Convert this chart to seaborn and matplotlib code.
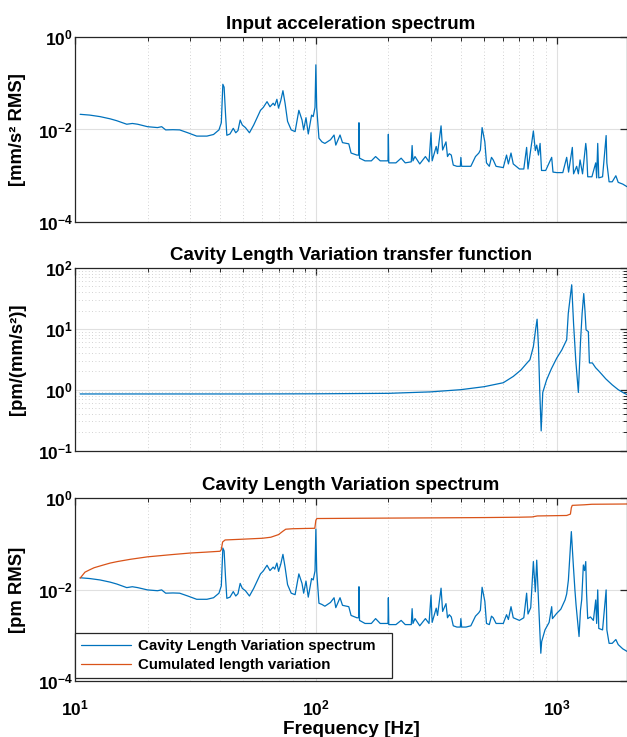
import numpy as np
import pandas as pd
import matplotlib
matplotlib.use("Agg")
import matplotlib.pyplot as plt
import seaborn as sns
from matplotlib.ticker import FixedLocator, NullLocator, FuncFormatter, NullFormatter

# ---------------- data ----------------
acc_freq = [10.5, 11.5, 12.7, 14.0, 14.9, 16.4, 17.3, 18.2, 20.0, 22.0, 22.9, 23.8, 25.5, 27.2, 29.4,
            32.0, 35.3, 37.6, 39.6, 40.5, 41.1, 41.6, 42.2, 42.7, 44.0, 45.4, 46.5, 47.5, 48.5, 49.5,
            51.0, 53.0, 55.2, 57.0, 58.9, 60.5, 62.7, 64.5, 66.5, 67.5, 68.9, 70.0, 71.5, 73.0, 74.5,
            76.3, 79.0, 82.0, 85.0, 87.6, 89.0, 91.0, 93.0, 96.0, 97.5, 99.2, 100.0, 100.8,
            103, 106, 109, 115, 119, 121, 126, 129, 137, 140, 148, 150.5, 151, 151.8, 160, 170, 177,
            185, 195, 199.3, 200, 200.8, 215, 226, 235, 249, 251, 253, 258, 270, 285, 295, 300.7, 304,
            316, 320, 331, 336, 347, 352, 358, 365, 372, 385, 398, 400, 403, 420, 440, 460, 475, 482,
            490, 503, 511, 525, 536, 545, 560, 600, 619, 630, 646, 660, 700, 730, 750, 760, 800, 815,
            826, 840, 853, 865, 900, 953, 965, 1000, 1060, 1100, 1120, 1161, 1175, 1210, 1230, 1250,
            1280, 1320, 1330, 1345, 1400, 1452, 1465, 1480, 1495, 1550, 1604, 1615, 1650, 1700, 1760,
            1800, 1880, 1958]
acc_val = [0.0213, 0.0205, 0.019, 0.017, 0.0155, 0.013, 0.0135, 0.013, 0.0115, 0.011, 0.0115, 0.0098,
           0.0099, 0.0098, 0.0085, 0.0072, 0.0072, 0.0078, 0.0098, 0.014, 0.095, 0.082, 0.02, 0.0075,
           0.008, 0.0106, 0.0085, 0.0095, 0.016, 0.0125, 0.011, 0.0085, 0.0125, 0.018, 0.026, 0.03,
           0.040, 0.031, 0.037, 0.033, 0.045, 0.029, 0.042, 0.069, 0.037, 0.015, 0.0098, 0.009, 0.026,
           0.016, 0.0098, 0.018, 0.008, 0.0205, 0.019, 0.03, 0.25, 0.03,
           0.0065, 0.0054, 0.005, 0.006, 0.0076, 0.0046, 0.0076, 0.0052, 0.0049, 0.0031, 0.0028,
           0.0028, 0.014, 0.0024, 0.0021, 0.0021, 0.0026, 0.0021, 0.0021, 0.0021, 0.0079, 0.0019,
           0.0019, 0.0024, 0.0019, 0.0020, 0.0045, 0.0021, 0.0026, 0.0018, 0.0026, 0.0020, 0.0085,
           0.0021, 0.0043, 0.0030, 0.012, 0.0036, 0.0054, 0.0026, 0.003, 0.0028, 0.0017, 0.0016,
           0.0016, 0.0025, 0.0016, 0.0016, 0.0016, 0.0026, 0.0031, 0.0036, 0.011, 0.0054, 0.0019,
           0.0016, 0.0025, 0.0022, 0.0016, 0.0015, 0.0028, 0.0018, 0.0031, 0.0018, 0.0014, 0.0014,
           0.0041, 0.0014, 0.0093, 0.0035, 0.0046, 0.0028, 0.0050, 0.0013, 0.0013, 0.0025, 0.0012,
           0.00117, 0.00117, 0.0025, 0.0012, 0.0041, 0.0011, 0.0016, 0.0011, 0.0022, 0.0011, 0.005,
           0.0035, 0.00095, 0.00095, 0.0019, 0.0009, 0.005, 0.0009, 0.00095, 0.0074, 0.0019, 0.00074,
           0.00074, 0.0010, 0.00072, 0.00066, 0.00058]

tf_freq = [10.5, 50, 100, 200, 300, 400, 500, 600, 660, 710, 750, 774, 800, 815, 829, 840, 850, 862,
           875, 908, 950, 1000, 1050, 1100, 1117, 1154, 1175, 1200, 1230, 1255, 1275, 1295, 1310,
           1324, 1353, 1367, 1406, 1450, 1500, 1600, 1700, 1800, 1900, 1958]
tf_val = [0.85, 0.85, 0.855, 0.87, 0.92, 1.0, 1.12, 1.3, 1.65, 2.1, 2.7, 3.1, 5.1, 9.0, 14.4, 5.0, 1.0,
          0.21, 0.9, 1.45, 2.2, 3.3, 4.5, 6.6, 18, 53, 12, 3.0, 0.9, 6.0, 18, 38, 20, 9.6, 9.0, 2.75,
          2.75, 2.3, 2.0, 1.5, 1.2, 1.0, 0.88, 0.83]

cav_freq = [10.5, 11.5, 12.7, 14.0, 14.9, 16.4, 17.3, 18.2, 20.0, 22.0, 22.9, 23.8, 25.5, 27.2, 29.4,
            32.0, 35.3, 37.6, 39.6, 40.5, 41.1, 41.6, 42.2, 42.7, 44.0, 45.4, 46.5, 47.5, 48.5, 49.5,
            51.0, 53.0, 55.2, 57.0, 58.9, 60.5, 62.7, 64.5, 66.5, 67.5, 68.9, 70.0, 71.5, 73.0, 74.5,
            76.3, 79.0, 82.0, 85.0, 87.6, 89.0, 91.0, 93.0, 96.0, 97.5, 99.2, 100.0, 100.8,
            103, 106, 109, 115, 119, 121, 126, 129, 137, 140, 148, 150.5, 151, 151.8, 160, 170, 177,
            185, 195, 199.3, 200, 200.8, 215, 226, 235, 249, 251, 253, 258, 270, 285, 295, 300.7, 304,
            316, 320, 331, 336, 347, 352, 358, 365, 372, 385, 398, 400, 403, 420, 440, 460, 475, 482,
            490, 503, 511, 525, 536, 545, 560, 600, 619, 630, 646, 660, 700, 730, 750, 760, 780, 800,
            815, 826, 839, 850, 859, 866, 894, 930, 953, 960, 1000, 1040, 1083, 1100, 1118, 1150, 1173,
            1190, 1203, 1238, 1255, 1270, 1290, 1305, 1320, 1330, 1345, 1380, 1420, 1452, 1465, 1480,
            1495, 1550, 1604, 1615, 1650, 1700, 1760, 1800, 1880, 1958]
cav_val = [0.0181, 0.0174, 0.0162, 0.0145, 0.0132, 0.011, 0.0115, 0.011, 0.0098, 0.0094, 0.0098,
           0.0083, 0.0084, 0.0083, 0.0072, 0.0061, 0.0061, 0.0066, 0.0083, 0.012, 0.081, 0.070, 0.017,
           0.0064, 0.0068, 0.009, 0.0072, 0.0081, 0.0136, 0.0106, 0.0094, 0.0072, 0.0106, 0.0153,
           0.022, 0.0255, 0.034, 0.026, 0.031, 0.028, 0.038, 0.025, 0.036, 0.059, 0.031, 0.0128,
           0.0083, 0.0077, 0.022, 0.0136, 0.0083, 0.0153, 0.0068, 0.0174, 0.0162, 0.0255, 0.21, 0.0255,
           0.0050, 0.0047, 0.0043, 0.0052, 0.0066, 0.004, 0.0066, 0.0045, 0.0042, 0.0027, 0.0024,
           0.0024, 0.0115, 0.0021, 0.0018, 0.0018, 0.0023, 0.0018, 0.0018, 0.0018, 0.0066, 0.0017,
           0.0017, 0.0021, 0.0017, 0.0017, 0.0038, 0.0018, 0.0023, 0.0016, 0.0023, 0.0018, 0.0075,
           0.0019, 0.0039, 0.0027, 0.0107, 0.0033, 0.0049, 0.0024, 0.0028, 0.0025, 0.0016, 0.0015,
           0.0015, 0.0023, 0.0015, 0.0015, 0.0016, 0.0026, 0.0031, 0.0035, 0.0112, 0.0055, 0.0018,
           0.0017, 0.0026, 0.0024, 0.0018, 0.0018, 0.0028, 0.0022, 0.0042, 0.0024, 0.0021, 0.0024,
           0.0083, 0.0029, 0.004, 0.041, 0.0089, 0.044, 0.0069, 0.0015, 0.0004, 0.00072, 0.0013,
           0.0019, 0.0042, 0.0023, 0.0030, 0.0037, 0.0059, 0.008, 0.016, 0.186, 0.032, 0.0098, 0.0046,
           0.00093, 0.0035, 0.006, 0.0345, 0.026, 0.041, 0.0083, 0.0023, 0.0025, 0.0021, 0.0059,
           0.0018, 0.0098, 0.0014, 0.0013, 0.0098, 0.0013, 0.00066, 0.00066, 0.0008, 0.00062, 0.0005,
           0.00044]

cum_freq = [10.5, 11, 11.5, 12, 13, 14, 15, 17, 20, 25, 30, 35, 40, 40.5, 41, 42, 50, 60, 65, 70, 73,
            75, 80, 90, 99, 100, 101, 150, 200, 300, 500, 700, 790, 830, 1100, 1140, 1150, 1160,
            1300, 1400, 1958]
cum_val = [0.0177, 0.024, 0.027, 0.030, 0.034, 0.038, 0.041, 0.046, 0.052, 0.058, 0.063, 0.066, 0.069,
           0.075, 0.11, 0.122, 0.127, 0.133, 0.14, 0.16, 0.19, 0.21, 0.215, 0.218, 0.22, 0.33, 0.36,
           0.365, 0.368, 0.372, 0.378, 0.385, 0.39, 0.41, 0.42, 0.45, 0.62, 0.70, 0.72, 0.74, 0.75]

titles = ["Input acceleration spectrum",
          "Cavity Length Variation transfer function",
          "Cavity Length Variation spectrum"]
ylabels = ["[mm/s² RMS]", "[pm/(mm/s²)]", "[pm RMS]"]
xlabel = "Frequency [Hz]"
legend_labels = ["Cavity Length Variation spectrum", "Cumulated length variation"]
x_ticks = [10, 100, 1000]
y_ticks = [[1e-4, 1e-2, 1e0], [1e-1, 1e0, 1e1, 1e2], [1e-4, 1e-2, 1e0]]
y_lims = [(1e-4, 1e0), (1e-1, 1e2), (1e-4, 1e0)]

# ---------------- style ----------------
sns.set_style("white")
plt.rcParams.update({
    "font.family": ["Liberation Sans", "DejaVu Sans"],
    "font.weight": "bold",
    "axes.labelweight": "bold",
    "axes.titleweight": "bold",
    "text.color": "black",
    "axes.labelcolor": "black",
    "mathtext.fontset": "custom",
    "mathtext.rm": "Liberation Sans:bold",
    "mathtext.bf": "Liberation Sans:bold",
    "mathtext.it": "Liberation Sans:bold",
    "mathtext.sf": "Liberation Sans:bold",
    "axes.edgecolor": "#262626",
    "axes.linewidth": 0.9,
})

BLUE = "#0072BD"
ORANGE = "#D95319"

fig = plt.figure(figsize=(6.27, 7.37), dpi=100)
W, H = 627.0, 737.0
left = 75 / W
width = (627 - 75) / W
boxes = [(37, 222), (268, 450.5), (498.3, 680.7)]
axes = [fig.add_axes([left, 1 - b / H, width, (b - t) / H]) for t, b in boxes]

def logfmt(v, pos):
    e = int(round(np.log10(v)))
    return r"$\mathbf{10^{%d}}$" % e

df1 = pd.DataFrame({"f": acc_freq, "v": acc_val})
df2 = pd.DataFrame({"f": tf_freq, "v": tf_val})
df3 = pd.DataFrame({"f": cav_freq, "v": cav_val})
df4 = pd.DataFrame({"f": cum_freq, "v": cum_val})

sns.lineplot(data=df1, x="f", y="v", ax=axes[0], color=BLUE, lw=0.9, estimator=None, sort=False)
sns.lineplot(data=df2, x="f", y="v", ax=axes[1], color=BLUE, lw=0.9, estimator=None, sort=False)
sns.lineplot(data=df3, x="f", y="v", ax=axes[2], color=BLUE, lw=0.9, estimator=None, sort=False,
             label=legend_labels[0])
sns.lineplot(data=df4, x="f", y="v", ax=axes[2], color=ORANGE, lw=0.9, estimator=None, sort=False,
             label=legend_labels[1])

for i, ax in enumerate(axes):
    ax.set_xscale("log")
    ax.set_yscale("log")
    ax.set_xlim(10, 1958)
    ax.set_ylim(*y_lims[i])
    ax.xaxis.set_major_locator(FixedLocator(x_ticks))
    ax.xaxis.set_minor_locator(FixedLocator([m * d for d in (10, 100, 1000) for m in range(2, 10)]))
    ax.yaxis.set_major_locator(FixedLocator(y_ticks[i]))
    if i == 1:
        ax.yaxis.set_minor_locator(FixedLocator([m * d for d in (0.1, 1, 10) for m in range(2, 10)]))
    else:
        ax.yaxis.set_minor_locator(NullLocator())
    ax.yaxis.set_major_formatter(FuncFormatter(logfmt))
    ax.yaxis.set_minor_formatter(NullFormatter())
    ax.xaxis.set_minor_formatter(NullFormatter())
    if i == 2:
        ax.xaxis.set_major_formatter(FuncFormatter(logfmt))
    else:
        ax.xaxis.set_major_formatter(NullFormatter())
    ax.set_axisbelow(True)
    ax.grid(which="major", color="#e0e0e0", lw=0.8, ls="-")
    ax.grid(which="minor", axis="x", color="#c4c4c4", lw=0.6, ls=(0, (1, 3)))
    if i == 1:
        ax.grid(which="minor", axis="y", color="#c4c4c4", lw=0.6, ls=(0, (1, 3)))
    ax.tick_params(which="both", direction="in", top=True, right=True, colors="#262626",
                   labelcolor="black", labelsize=12.5)
    ax.tick_params(axis="y", which="both", pad=1.5)
    ax.tick_params(axis="x", which="both", pad=13)
    ax.tick_params(which="major", length=5, width=0.9)
    ax.tick_params(which="minor", length=3, width=0.7)
    for s in ax.spines.values():
        s.set_visible(True)
        s.set_color("#262626")
    ax.set_title(titles[i], fontsize=13.5, fontweight="bold", pad=6)
    ax.set_ylabel(ylabels[i], fontsize=13.3, fontweight="bold")
    ax.set_xlabel("")

axes[2].set_xlabel(xlabel, fontsize=13.7, fontweight="bold", labelpad=2)
for ax in axes:
    ax.yaxis.set_label_coords(-0.088, 0.5)

leg = axes[2].legend(loc="lower left", bbox_to_anchor=(0.0, 0.013, 0.574, 0.25), mode="expand",
                     frameon=True, fancybox=False, framealpha=1, edgecolor="#262626",
                     prop={"weight": "bold", "size": 10.8}, handlelength=3.3, handletextpad=0.5,
                     borderaxespad=0, labelspacing=0.32, borderpad=0.42)
leg.get_frame().set_linewidth(0.9)
for ln in leg.get_lines():
    ln.set_linewidth(0.9)

fig.savefig("out.png", dpi=100, facecolor="white")
